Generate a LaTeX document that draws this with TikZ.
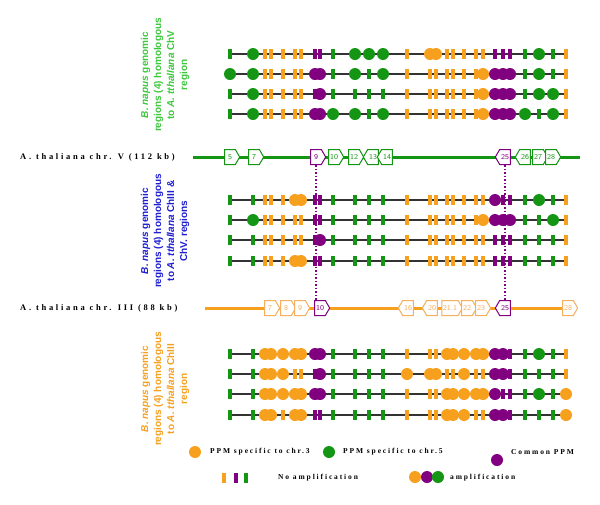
\documentclass[tikz,border=0pt]{standalone}
\usepackage{fontspec}
\setmainfont{Liberation Sans}
\newfontfamily\spc[LetterSpace=25]{Liberation Serif}
\newfontfamily\spcw[LetterSpace=32]{Liberation Serif}
\usetikzlibrary{shapes.symbols}
\definecolor{G}{RGB}{20,150,20}
\definecolor{O}{RGB}{247,160,30}
\definecolor{P}{RGB}{128,0,128}
\definecolor{lblG}{RGB}{60,200,60}
\definecolor{lblB}{RGB}{30,30,210}
\definecolor{lblO}{RGB}{245,160,30}
\definecolor{geneO}{RGB}{245,175,95}
\tikzset{
  rowline/.style={draw=black!80,line width=1.3pt},
  dotm/.style={circle,inner sep=0pt,minimum size=12pt,draw=none},
  barm/.style={rectangle,inner sep=0pt,minimum width=3.5pt,minimum height=10pt,draw=none},
  gene/.style={signal,draw=#1,fill=white,text=#1,line width=1pt,minimum width=15pt,minimum height=15pt,inner sep=1pt,signal pointer angle=120,font=\sffamily\fontsize{7.5}{8}\selectfont},
  chrV/.style={draw=G,line width=3pt},
  chrIII/.style={draw=O,line width=3pt},
  pdot/.style={draw=P,line width=1.5pt,dotted},
  lgtext/.style={font=\spc\bfseries\fontsize{7.5}{8}\selectfont,inner sep=0pt},
  chtext/.style={font=\spcw\bfseries\fontsize{8.5}{9}\selectfont,inner sep=0pt},
  lbl/.style={rotate=90,align=center,font=\bfseries\fontsize{10}{13}\selectfont,inner sep=0pt}
}
\makeatletter
\newcommand\mkrow[3]{%
  \coordinate (#1-s) at (230,#2);
  \coordinate (#1-e) at (566,#2);
  \draw[rowline] (#1-s) -- (#1-e);
  \foreach \x/\c [count=\k] in {230/G,253/G,265/O,271/O,283/O,295/O,301/O,315/P,320/P,333/G,355/G,369/G,383/G,407/O,430/O,436/O,447/O,453/O,464/O,476/O,483/O,495/P,503/P,510/P,525/G,539/G,553/G,566/O}{%
    \edef\tmp{\noexpand\in@{,\k,}{,#3,}}\tmp
    \ifin@\node[dotm,fill=\c] (#1-\k) at (\x,#2) {};\else\node[barm,fill=\c] (#1-\k) at (\x,#2) {};\fi
  }%
}
\makeatother
\begin{document}
\begin{tikzpicture}[x=1pt,y=-1pt]
\useasboundingbox (0,0) rectangle (600,504);
% labels
\node[lbl,text=lblG] (lblV) at (165,75) {\textit{B. napus} genomic\\regions (4) homologous\\to \textit{A. tthallana} ChV\\region};
\node[lbl,text=lblB] (lblVIII) at (165,231) {\textit{B. napus} genomic\\regions (4) homologous\\to \textit{A. tthallana} ChIII \&\\ChV. regions};
\node[lbl,text=lblO] (lblIII) at (165,389) {\textit{B. napus} genomic\\regions (4) homologous\\to \textit{A. tthallana} ChIII\\region};
% top block
\mkrow{t1}{54}{2,11,12,13,15,16,26}
\mkrow{t2}{74}{1,2,8,9,11,13,21,22,23,24,26}
\mkrow{t3}{94}{2,9,21,22,23,24,26,27}
\mkrow{t4}{114}{2,8,9,10,11,13,21,22,23,24,25,27}
% chromosome V
\node[chtext,anchor=west] (chVt) at (20,157) {A. thaliana chr. V (112 kb)};
\coordinate (chVs) at (193,157);
\coordinate (chVe) at (580,157);
\draw[chrV] (chVs) -- (chVe);
\node[gene=G,signal to=east] (v5) at (230,157) {5};
\node[gene=G,signal to=east] (v7) at (254,157) {7};
\node[gene=P,signal to=east] (v9) at (316,157) {9};
\node[gene=G,signal to=east] (v10) at (334,157) {10};
\node[gene=G,signal to=east] (v12) at (354,157) {12};
\node[gene=G,signal to=west] (v13) at (373,157) {13};
\node[gene=G,signal to=west] (v14) at (387,157) {14};
\node[gene=P,signal to=west] (v25) at (505,157) {25};
\node[gene=G,signal to=west] (v26) at (525,157) {26};
\node[gene=G,signal to=east] (v27) at (538,157) {27};
\node[gene=G,signal to=east] (v28) at (551,157) {28};
% middle block
\mkrow{m1}{200}{6,7,22,26}
\mkrow{m2}{220}{2,21,22,23,24,27}
\mkrow{m3}{240}{9}
\mkrow{m4}{261}{6,7}
% chromosome III
\node[chtext,anchor=west] (chIIIt) at (20,308) {A. thaliana chr. III (88 kb)};
\coordinate (chIIIs) at (205,308);
\coordinate (chIIIe) at (575,308);
\draw[chrIII] (chIIIs) -- (chIIIe);
\node[gene=geneO,signal to=east] (c7) at (270,308) {7};
\node[gene=geneO,signal to=east] (c8) at (286,308) {8};
\node[gene=geneO,signal to=east] (c9) at (300,308) {9};
\node[gene=P,signal to=east] (c10) at (320,308) {10};
\node[gene=geneO,signal to=west] (c16) at (408,308) {16};
\node[gene=geneO,signal to=west] (c20) at (432,308) {20};
\node[gene=geneO,signal to=east] (c21) at (450,308) {21.1};
\node[gene=geneO,signal to=east] (c22) at (467,308) {22};
\node[gene=geneO,signal to=east] (c23) at (481,308) {23};
\node[gene=P,signal to=west] (c25) at (505,308) {25};
\node[gene=geneO,signal to=east] (c28) at (568,308) {28};
% bottom block
\mkrow{b1}{354}{3,4,5,6,7,8,9,17,18,19,20,21,22,23,26}
\mkrow{b2}{374}{3,4,5,9,14,15,16,19,22,23}
\mkrow{b3}{394}{3,4,5,6,7,8,9,17,18,19,20,21,22,26,28}
\mkrow{b4}{415}{3,4,6,7,17,18,19,22,23,28}
% dotted links
\draw[pdot] (v9.south) -- (v9.south |- c10.north);
\draw[pdot] (v25.south) -- (c25.north);
% legend
\node[dotm,fill=O] (lgO) at (195,452) {};
\node[lgtext,anchor=west] (lgOt) at (210,452) {PPM specific to chr.3};
\node[dotm,fill=G] (lgG) at (329,452) {};
\node[lgtext,anchor=west] (lgGt) at (343,452) {PPM specific to chr.5};
\node[dotm,fill=P] (lgP) at (497,460) {};
\node[lgtext,anchor=west] (lgPt) at (511,452) {Common PPM};
\node[barm,fill=O] (lbO) at (224,478) {};
\node[barm,fill=P] (lbP) at (236,478) {};
\node[barm,fill=G] (lbG) at (246,478) {};
\node[lgtext,anchor=west] (lbt) at (278,478) {No amplification};
\node[dotm,fill=O] (ldO) at (415,477) {};
\node[dotm,fill=P] (ldP) at (427,477) {};
\node[dotm,fill=G] (ldG) at (438,477) {};
\node[lgtext,anchor=west] (ldt) at (450,478) {amplification};
\end{tikzpicture}
\end{document}
